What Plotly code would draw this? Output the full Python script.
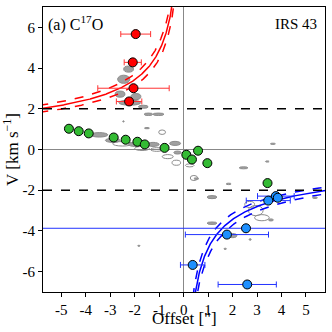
import numpy as np
import plotly.graph_objects as go

# red-shifted points (offset ["], V [km/s], offset error)
red_x = [-1.96, -2.08, -2.05, -2.23]
red_v = [5.67, 4.28, 3.01, 2.36]
red_err = [0.61, 0.35, 1.46, 0.52]

# low-velocity green points
green_x = [-4.69, -4.29, -3.88, -2.86, -2.37, -1.89, -1.59, -0.78, 0.11, 0.34, 0.59, 0.97, 3.43]
green_v = [1.02, 0.90, 0.79, 0.59, 0.48, 0.38, 0.25, 0.08, -0.26, -0.49, -0.06, -0.67, -1.65]

# blue-shifted points
blue_x = [3.77, 3.85, 3.46, 2.55, 1.77, 0.37, 2.60]
blue_v = [-2.29, -2.37, -2.51, -3.87, -4.18, -5.67, -6.63]
blue_err = [0.75, 0.0, 0.9, 10.0, 1.70, 0.50, 1.19]

# Keplerian curve amplitude: V = A / sqrt(|offset|)
kep_a = 4.85
kep_lo = 4.45
kep_hi = 5.25

# gray PV contour blobs: centre x, centre v, width, height, filled
blob_x = [-2.25, -2.45, -2.6, -1.95, -2.2, -1.65, -1.44, -1.03, -1.5, -2.46,
          -3.45, -2.9, -2.5, -2.0, -1.7, -1.25, -1.1, -0.88, -0.35, -0.65, -0.3, 0.25, 0.42, -0.25,
          3.65, 3.42, 2.45, 1.84, 1.16, 2.95, 3.2, 2.7, 3.95, 3.57, 5.37, 1.16, 2.0, 2.72, 1.7, -1.83, 0.52]
blob_v = [3.95, 3.45, 2.72, 2.6, 2.3, 2.1, 1.73, 1.73, 1.05, 1.38,
          0.72, 0.45, 0.28, 0.25, 0.05, 0.25, 0.0, 0.85, 0.3, -0.35, -0.65, -0.78, -1.4, -0.15,
          0.28, -0.59, -0.9, -1.69, -2.34, -3.0, -3.35, -2.7, -2.34, -3.46, -2.37, -3.62, -4.23, -4.42, -4.88, -4.73, -1.43]
blob_w = [0.4, 0.5, 0.4, 0.4, 0.9, 0.4, 0.35, 0.45, 0.2, 0.06,
          0.7, 0.6, 0.8, 0.5, 0.6, 0.5, 0.5, 0.28, 0.45, 0.45, 0.35, 0.35, 0.3, 0.3,
          0.2, 0.15, 0.35, 0.2, 0.4, 0.6, 0.6, 0.4, 0.2, 0.2, 0.2, 0.4, 0.35, 0.08, 0.1, 0.1, 0.2]
blob_h = [0.3, 0.4, 0.3, 0.3, 0.25, 0.15, 0.12, 0.12, 0.06, 0.06,
          0.22, 0.2, 0.22, 0.2, 0.2, 0.2, 0.18, 0.22, 0.2, 0.2, 0.25, 0.15, 0.25, 0.15,
          0.06, 0.06, 0.1, 0.07, 0.15, 0.5, 0.3, 0.3, 0.1, 0.1, 0.07, 0.12, 0.2, 0.08, 0.06, 0.05, 0.07]
blob_fill = [1, 1, 1, 1, 1, 1, 1, 1, 1, 1,
             1, 1, 0, 1, 0, 1, 0, 0, 1, 0, 0, 0, 0, 1,
             1, 1, 1, 1, 1, 0, 0, 0, 1, 1, 1, 1, 1, 1, 1, 1, 1]

x_ticks = [-5, -4, -3, -2, -1, 0, 1, 2, 3, 4, 5]
x_labels = ['-5', '-4', '-3', '-2', '-1', '0', '1', '2', '3', '4', '5']
y_ticks = [-6, -4, -2, 0, 2, 4, 6]
y_labels = ['-6', '-4', '-2', '0', '2', '4', '6']

SERIF = "'Liberation Serif', 'Times New Roman', Times, serif"

fig = go.Figure()

# contour blobs
for bx, bv, bw, bh, bf in zip(blob_x, blob_v, blob_w, blob_h, blob_fill):
    fig.add_shape(type='circle', xref='x', yref='y', layer='below',
                  x0=bx - bw / 2, x1=bx + bw / 2, y0=bv - bh / 2, y1=bv + bh / 2,
                  line=dict(color='#8c8c8c', width=1),
                  fillcolor='#a0a0a0' if bf else 'rgba(0,0,0,0)')

# Keplerian curves
xr = np.linspace(-5.9, -0.3, 300)
xb = np.linspace(0.3, 5.9, 300)
for amp, dash in [(kep_a, 'solid'), (kep_lo, 'dash'), (kep_hi, 'dash')]:
    fig.add_trace(go.Scatter(x=xr, y=amp / np.sqrt(np.abs(xr)), mode='lines',
                             line=dict(color='#ff0000', width=1.5, dash=dash), showlegend=False))
    fig.add_trace(go.Scatter(x=xb, y=-amp / np.sqrt(np.abs(xb)), mode='lines',
                             line=dict(color='#0000ff', width=1.5, dash=dash), showlegend=False))

fig.add_hline(y=2, line=dict(color='black', width=1.5, dash='dash'))
fig.add_hline(y=-2, line=dict(color='black', width=1.5, dash='dash'))

fig.add_trace(go.Scatter(
    x=red_x, y=red_v, mode='markers',
    error_x=dict(type='data', array=red_err, color='#ff3333', thickness=1, width=3),
    marker=dict(color='#ff0000', size=9, line=dict(color='black', width=1)),
    showlegend=False))
fig.add_trace(go.Scatter(
    x=green_x, y=green_v, mode='markers',
    marker=dict(color='#33bb33', size=9, line=dict(color='black', width=1)),
    showlegend=False))
fig.add_trace(go.Scatter(
    x=blue_x, y=blue_v, mode='markers',
    error_x=dict(type='data', array=blue_err, color='#2233ff', thickness=1, width=3),
    marker=dict(color='#1e90ff', size=9, line=dict(color='black', width=1)),
    showlegend=False))

fig.add_annotation(x=0.01, y=0.985, xref='paper', yref='paper', xanchor='left', yanchor='top',
                   text='(a) C<sup>17</sup>O', showarrow=False,
                   font=dict(family=SERIF, size=16, color='black'))
fig.add_annotation(x=0.98, y=0.975, xref='paper', yref='paper', xanchor='right', yanchor='top',
                   text='IRS 43', showarrow=False,
                   font=dict(family=SERIF, size=15, color='black'))
# x axis title placed by hand so it sits close under the tick labels
fig.add_annotation(x=0.5, y=0, xref='paper', yref='paper', xanchor='center', yanchor='top',
                   yshift=-15, text='Offset ["]', showarrow=False,
                   font=dict(family=SERIF, size=17, color='black'))

axis_style = dict(showline=True, linecolor='black', linewidth=1.2, mirror=True,
                  ticks='outside', ticklen=4, tickcolor='black', showgrid=False,
                  zeroline=True, zerolinecolor='#888888', zerolinewidth=1.3,
                  automargin=False,
                  tickfont=dict(family=SERIF, size=15, color='black'))

fig.update_xaxes(range=[-5.75, 5.78], tickvals=x_ticks, ticktext=x_labels, **axis_style)
fig.update_yaxes(range=[-7, 7], tickvals=y_ticks, ticktext=y_labels,
                 title=dict(text='V [km s<sup>\u22121</sup>]', standoff=4,
                            font=dict(family=SERIF, size=17, color='black')),
                 **axis_style)

fig.update_layout(width=332, height=332, margin=dict(l=43, r=7, t=7, b=40),
                  font=dict(family=SERIF),
                  plot_bgcolor='white', paper_bgcolor='white')

# page body has a default 8px margin; drop it so the figure sits at the corner
fig.write_html("out.html", config={'displayModeBar': False},
               post_script="document.body.style.margin='0';")
